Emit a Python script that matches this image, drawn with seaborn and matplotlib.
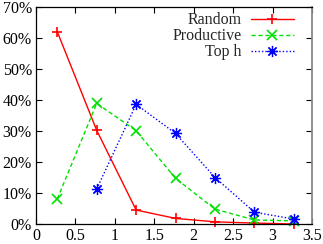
import matplotlib
matplotlib.use("Agg")
import matplotlib.pyplot as plt
import seaborn as sns
import pandas as pd
from matplotlib.ticker import FuncFormatter

x_vals = [0.27, 0.77, 1.27, 1.77, 2.27, 2.77, 3.27]
random_vals = [62.0, 30.2, 4.5, 1.8, 0.7, 0.3, 0.0]
productive_vals = [8.1, 38.9, 30.1, 14.7, 4.8, 1.3, 1.0]
toph_x = [0.77, 1.27, 1.77, 2.27, 2.77, 3.27]
toph_vals = [11.3, 38.6, 29.2, 15.0, 3.8, 1.6]
series_names = ["Random", "Productive", "Top h"]
x_ticks = [0, 0.5, 1, 1.5, 2, 2.5, 3, 3.5]
x_tick_labels = ["0", "0.5", "1", "1.5", "2", "2.5", "3", "3.5"]
y_ticks = [0, 10, 20, 30, 40, 50, 60, 70]

rows = []
for xv, yv in zip(x_vals, random_vals):
    rows.append((series_names[0], xv, yv))
for xv, yv in zip(x_vals, productive_vals):
    rows.append((series_names[1], xv, yv))
for xv, yv in zip(toph_x, toph_vals):
    rows.append((series_names[2], xv, yv))
df = pd.DataFrame(rows, columns=["series", "x", "y"])

sns.set_theme(style="ticks")
plt.rcParams["font.family"] = ["Liberation Serif", "DejaVu Serif"]
FS = 11.5

fig = plt.figure(figsize=(3.23, 2.44), dpi=100)
ax = fig.add_axes([36 / 323, 20 / 244, 276 / 323, 217 / 244])

palette = {"Random": "#ff0000", "Productive": "#00e000", "Top h": "#0000ff"}
dashes = {"Random": "", "Productive": (3, 2), "Top h": (1, 1.5)}
markers = {"Random": "+", "Productive": "x", "Top h": (8, 2, 0)}

sns.lineplot(data=df, x="x", y="y", hue="series", style="series",
             palette=palette, dashes=dashes, markers=markers,
             hue_order=series_names, style_order=series_names,
             linewidth=1.0, markersize=6.5, markeredgewidth=1.2,
             clip_on=False, ax=ax, legend=True)


def style_marker(ln):
    ln.set_markeredgecolor(ln.get_color())
    ln.set_markerfacecolor(ln.get_color())
    if ln.get_color() == "#0000ff":
        ln.set_markersize(8)
        ln.set_markeredgewidth(0.9)


for ln in ax.lines:
    style_marker(ln)

ax.set_xlim(0, 3.5)
ax.set_ylim(0, 70)
ax.set_xticks(x_ticks)
ax.set_xticklabels(x_tick_labels)
ax.set_yticks(y_ticks)
ax.yaxis.set_major_formatter(FuncFormatter(lambda v, p: f"{int(round(v))}%"))
ax.set_xlabel("")
ax.set_ylabel("")
ax.tick_params(direction="in", length=4, width=0.8, top=True, right=True,
               labelsize=FS, pad=3, colors="black")
for s in ["left", "bottom", "top"]:
    ax.spines[s].set_color("black")
    ax.spines[s].set_linewidth(0.9)
ax.spines["right"].set_color("#888888")
ax.spines["right"].set_linewidth(1.3)

handles, labels = ax.get_legend_handles_labels()
leg = ax.legend(handles, labels, loc="upper right", markerfirst=False,
                frameon=False, bbox_to_anchor=(0.935, 0.975),
                borderaxespad=0, borderpad=0, handlelength=2.7,
                handletextpad=0.6, labelspacing=0.0, fontsize=FS)
for h in leg.legend_handles:
    style_marker(h)

fig.savefig("out.png", dpi=100)
